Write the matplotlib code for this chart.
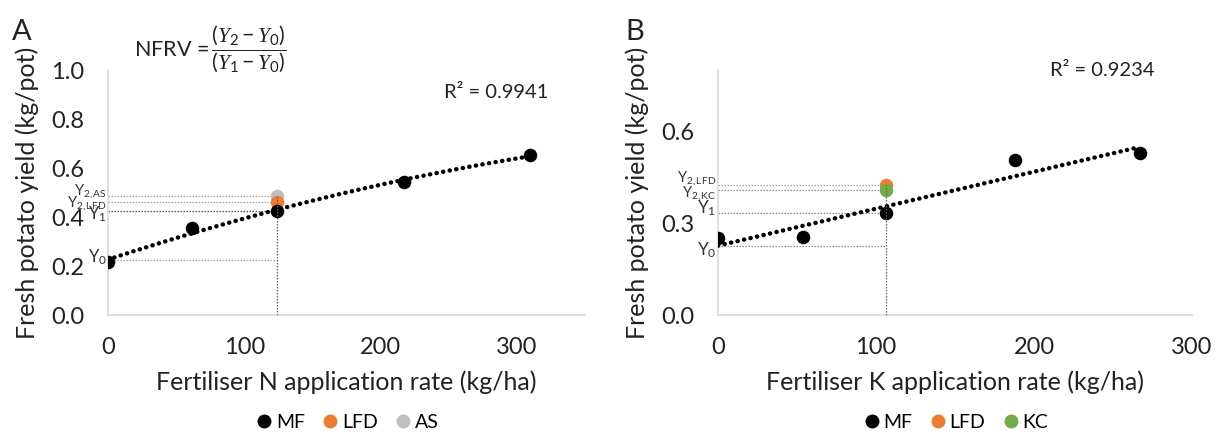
import numpy as np
import matplotlib
matplotlib.use("Agg")
import matplotlib.pyplot as plt
from matplotlib.lines import Line2D

plt.rcParams["font.family"] = ["Lato", "DejaVu Sans"]
plt.rcParams["mathtext.fontset"] = "custom"
plt.rcParams["mathtext.rm"] = "Lato"
plt.rcParams["mathtext.it"] = "Liberation Serif:italic"
plt.rcParams["mathtext.bf"] = "Lato:bold"

# Panel A: nitrogen
n_rate = [0, 62, 124, 217, 310]
n_mf = [0.216, 0.355, 0.424, 0.543, 0.653]
n_ref_rate = 124
n_lfd = 0.461
n_as = 0.486
n_r2 = "R² = 0.9941"

# Panel B: potassium
k_rate = [0, 54, 106, 188, 267]
k_mf = [0.252, 0.256, 0.334, 0.505, 0.528]
k_ref_rate = 106
k_lfd = 0.426
k_kc = 0.407
k_r2 = "R² = 0.9234"

C_MF = "black"
C_LFD = "#ED7D31"
C_AS = "#BFBFBF"
C_KC = "#70AD47"
SPINE = "#D9D9D9"
TXT = "#222222"

fig = plt.figure(figsize=(12.17, 4.32), dpi=100)
axA = fig.add_axes([0.0887, 0.2708, 0.392, 0.567])
axB = fig.add_axes([0.590, 0.2708, 0.3895, 0.567])


def style(ax, xlim, ylim, yticks, xlabel):
    ax.set_xlim(*xlim)
    ax.set_ylim(*ylim)
    ax.set_xticks([0, 100, 200, 300])
    ax.set_yticks(yticks)
    ax.yaxis.set_major_formatter(matplotlib.ticker.FormatStrFormatter("%.1f"))
    for s in ["top", "right"]:
        ax.spines[s].set_visible(False)
    for s in ["left", "bottom"]:
        ax.spines[s].set_color(SPINE)
        ax.spines[s].set_linewidth(1.2)
    ax.tick_params(length=0, labelsize=17, colors=TXT)
    ax.tick_params(axis="y", pad=17)
    ax.tick_params(axis="x", pad=16)
    ax.set_xlabel(xlabel, fontsize=18, color=TXT)
    ax.set_ylabel("Fresh potato yield (kg/pot)", fontsize=18, color=TXT)
    ax.yaxis.set_label_coords(-0.145, 0.5)
    ax.xaxis.set_label_coords(0.5, -0.225)


def ref_lines(ax, xref, levels, top):
    for lv, col in levels:
        ax.plot([0, xref], [lv, lv], color=col, lw=0.9, ls=(0, (1.2, 1.2)), zorder=1)
    ax.plot([xref, xref], [0, top], color="#666666", lw=0.9, ls=(0, (1.2, 1.2)), zorder=5)


def ylab(ax, y, txt, size=12):
    ax.annotate(txt, xy=(0, y), xytext=(-1, 0), textcoords="offset points",
                ha="right", va="center", fontsize=size, color="#333333",
                annotation_clip=False)


def legend(ax, items):
    ax.legend(handles=[Line2D([], [], ls="", marker="o", ms=9, color=c, label=l)
                       for c, l in items],
              loc="center", bbox_to_anchor=(0.5, -0.44), ncol=3, frameon=False,
              fontsize=14, handletextpad=0.1, columnspacing=0.8, handlelength=1)


trend_kw = dict(color="black", lw=3.2, ls=(0, (0.05, 1.45)),
                dash_capstyle="round", solid_capstyle="round", zorder=3)

# ---- Panel A
ca = np.polyfit(n_rate, n_mf, 2)
xa = np.linspace(0, n_rate[-1], 200)
n_y0 = np.polyval(ca, 0)
ref_lines(axA, n_ref_rate, [(n_y0, "#A6A6A6"), (n_mf[2], "#555555"),
                            (n_lfd, "#A6A6A6"), (n_as, "#A6A6A6")], n_as)
axA.plot(xa, np.polyval(ca, xa), **trend_kw)
axA.scatter([n_ref_rate], [n_as], s=95, color=C_AS, zorder=4, linewidths=0)
axA.scatter([n_ref_rate], [n_lfd], s=95, color=C_LFD, zorder=4, linewidths=0)
axA.scatter(n_rate, n_mf, s=95, color=C_MF, zorder=4, linewidths=0)
style(axA, (0, 350), (0, 1.0), [0, 0.2, 0.4, 0.6, 0.8, 1.0],
      "Fertiliser N application rate (kg/ha)")
ylab(axA, n_y0 + 0.008, r"Y$_0$")
ylab(axA, n_mf[2] - 0.012, r"Y$_1$", 12)
ylab(axA, n_lfd - 0.004, r"Y$_{2,\mathrm{LFD}}$", 10.5)
ylab(axA, n_as + 0.02, r"Y$_{2,\mathrm{AS}}$", 10.5)
axA.text(0.813, 0.91, n_r2, transform=axA.transAxes, ha="center", va="center",
         fontsize=14.5, color=TXT)
legend(axA, [(C_MF, "MF"), (C_LFD, "LFD"), (C_AS, "AS")])

# ---- Panel B
cb = np.polyfit(k_rate, k_mf, 1)
xb = np.linspace(0, k_rate[-1], 200)
k_y0 = np.polyval(cb, 0)
ref_lines(axB, k_ref_rate, [(k_y0, "#8C8C8C"), (k_mf[2], "#8C8C8C"),
                            (k_kc, "#8C8C8C"), (k_lfd, "#A6A6A6")], k_lfd)
axB.plot(xb, np.polyval(cb, xb), **trend_kw)
axB.scatter([k_ref_rate], [k_lfd], s=95, color=C_LFD, zorder=4, linewidths=0)
axB.scatter([k_ref_rate], [k_kc], s=95, color=C_KC, zorder=4, linewidths=0)
axB.scatter(k_rate, k_mf, s=95, color=C_MF, zorder=4, linewidths=0)
style(axB, (0, 300), (0, 0.8), [0, 0.3, 0.6],
      "Fertiliser K application rate (kg/ha)")
ylab(axB, k_y0 - 0.014, r"Y$_0$", 12.5)
ylab(axB, k_mf[2] + 0.014, r"Y$_1$", 12.5)
ylab(axB, k_kc - 0.01, r"Y$_{2,\mathrm{KC}}$", 10.5)
ylab(axB, k_lfd + 0.02, r"Y$_{2,\mathrm{LFD}}$", 10.5)
axB.text(0.81, 1.0, k_r2, transform=axB.transAxes, ha="center", va="center",
         fontsize=14.5, color=TXT)
legend(axB, [(C_MF, "MF"), (C_LFD, "LFD"), (C_KC, "KC")])

# panel letters and formula
fig.text(0.010, 0.925, "A", fontsize=21, va="center", color=TXT)
fig.text(0.514, 0.925, "B", fontsize=21, va="center", color=TXT)
fig.text(0.110, 0.885, r"NFRV$\,=\dfrac{(Y_2-Y_0)}{(Y_1-Y_0)}$", fontsize=15.5,
         va="center", color=TXT)

fig.savefig("out.png", dpi=100)
